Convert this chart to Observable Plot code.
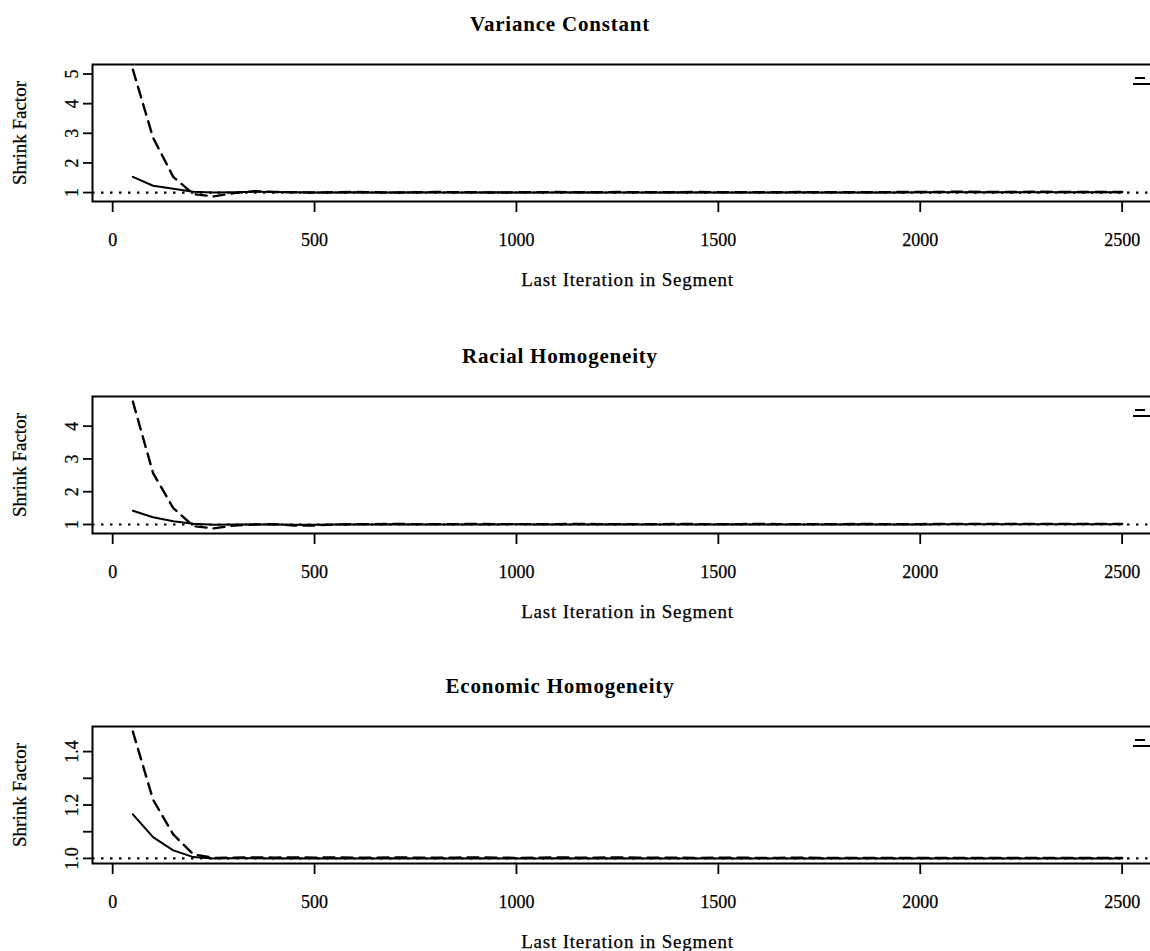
<!DOCTYPE html>
<html>
<head>
<meta charset="utf-8">
<script src="https://cdn.jsdelivr.net/npm/d3@7"></script>
<script src="https://cdn.jsdelivr.net/npm/@observablehq/plot@0.6"></script>
<style>
  html, body { margin: 0; padding: 0; background: #fff; }
  #wrap { position: relative; width: 1150px; height: 951px; overflow: hidden; background: #fff;
          font-family: "Liberation Serif", "Times New Roman", serif; color: #000; }
  .title { position: absolute; left: 0; width: 1120px; height: 24px; line-height: 24px; text-align: center;
           font-weight: bold; font-size: 21px; letter-spacing: 0.8px; }
  .panel { position: absolute; left: 0; width: 1200px; }
  .panel svg { max-width: none !important; width: 1200px; }
  .legend { position: absolute; left: 1133px; }
  .panel svg text { stroke: #000; stroke-width: 0.25px; }
  g[aria-label="x-axis label"] text { letter-spacing: 0.8px; font-size: 19px; }
  g[aria-label="y-axis label"] text { font-size: 19px; }
</style>
</head>
<body>
<div id="wrap"></div>
<script>
// ---------------- data ----------------
const titles = ["Variance Constant", "Racial Homogeneity", "Economic Homogeneity"];
const xLabel = "Last Iteration in Segment";
const yLabel = "Shrink Factor";
const seriesNames = ["median", "97.5%"];

const lastIter = [50, 100, 150, 200, 250, 300, 350, 400, 450, 500,
  550, 600, 650, 700, 750, 800, 850, 900, 950, 1000,
  1050, 1100, 1150, 1200, 1250, 1300, 1350, 1400, 1450, 1500,
  1550, 1600, 1650, 1700, 1750, 1800, 1850, 1900, 1950, 2000,
  2050, 2100, 2150, 2200, 2250, 2300, 2350, 2400, 2450, 2500];

const xTicks = [0, 500, 1000, 1500, 2000, 2500];

// Variance Constant
const varianceMedian = [1.53, 1.23, 1.13, 1.03, 1.00, 1.01, 1.03, 1.02, 1.01, 1.00,
  1.00, 1.01, 1.00, 1.00, 1.01, 1.00, 1.00, 1.00, 1.01, 1.00,
  1.00, 1.00, 1.01, 1.00, 1.00, 1.00, 1.00, 1.01, 1.00, 1.00,
  1.00, 1.00, 1.00, 1.01, 1.00, 1.00, 1.00, 1.00, 1.00, 1.01,
  1.01, 1.01, 1.01, 1.01, 1.01, 1.01, 1.01, 1.01, 1.01, 1.01];
const varianceUpper = [5.15, 2.85, 1.53, 0.95, 0.87, 0.98, 1.05, 1.02, 1.01, 1.00,
  1.01, 1.02, 1.01, 1.00, 1.01, 1.02, 1.01, 1.01, 1.00, 1.01,
  1.01, 1.02, 1.01, 1.01, 1.02, 1.01, 1.01, 1.01, 1.02, 1.01,
  1.01, 1.01, 1.01, 1.02, 1.01, 1.01, 1.01, 1.01, 1.02, 1.02,
  1.02, 1.03, 1.02, 1.02, 1.02, 1.03, 1.02, 1.02, 1.02, 1.02];
const varianceTicks = [1, 2, 3, 4, 5];
const varianceTickLabels = ["1", "2", "3", "4", "5"];

// Racial Homogeneity
const racialMedian = [1.42, 1.22, 1.10, 1.02, 0.99, 1.00, 1.00, 1.00, 0.99, 0.99,
  1.00, 1.00, 1.00, 1.01, 1.00, 1.00, 1.00, 1.00, 1.00, 1.01,
  1.00, 1.00, 1.00, 1.00, 1.01, 1.00, 1.00, 1.00, 1.00, 1.00,
  1.01, 1.00, 1.00, 1.00, 1.00, 1.00, 1.01, 1.00, 1.00, 1.00,
  1.01, 1.01, 1.01, 1.01, 1.01, 1.01, 1.01, 1.01, 1.01, 1.01];
const racialUpper = [4.75, 2.57, 1.50, 0.95, 0.88, 0.97, 1.00, 1.01, 0.97, 0.97,
  1.00, 1.01, 1.01, 1.02, 1.01, 1.01, 1.01, 1.02, 1.01, 1.01,
  1.01, 1.01, 1.02, 1.01, 1.01, 1.01, 1.01, 1.02, 1.01, 1.01,
  1.01, 1.02, 1.01, 1.01, 1.01, 1.01, 1.02, 1.01, 1.01, 1.01,
  1.02, 1.02, 1.02, 1.02, 1.02, 1.02, 1.02, 1.02, 1.02, 1.02];
const racialTicks = [1, 2, 3, 4];
const racialTickLabels = ["1", "2", "3", "4"];

// Economic Homogeneity
const economicMedian = [1.165, 1.080, 1.030, 1.005, 1.000, 1.001, 1.001, 1.000, 1.001, 1.000,
  1.001, 1.000, 1.000, 1.001, 1.000, 1.000, 1.000, 1.001, 1.000, 1.000,
  1.000, 1.001, 1.000, 1.000, 1.001, 1.000, 1.000, 1.000, 1.000, 1.000,
  1.000, 1.000, 1.000, 1.000, 1.000, 1.000, 1.000, 1.000, 1.000, 1.000,
  1.000, 1.000, 1.000, 1.000, 1.000, 1.000, 1.000, 1.000, 1.000, 1.000];
const economicUpper = [1.475, 1.220, 1.090, 1.015, 1.002, 1.003, 1.004, 1.003, 1.004, 1.003,
  1.004, 1.003, 1.003, 1.004, 1.003, 1.003, 1.003, 1.004, 1.003, 1.002,
  1.003, 1.004, 1.003, 1.003, 1.004, 1.003, 1.003, 1.003, 1.002, 1.003,
  1.003, 1.002, 1.002, 1.003, 1.002, 1.002, 1.002, 1.002, 1.002, 1.002,
  1.002, 1.002, 1.002, 1.002, 1.002, 1.002, 1.002, 1.002, 1.002, 1.002];
const economicTicks = [1.0, 1.1, 1.2, 1.3, 1.4];
const economicTickLabels = ["1.0", "", "1.2", "", "1.4"];

// ---------------- layout ----------------
const panels = [
  {title: titles[0], median: varianceMedian, upper: varianceUpper, ticks: varianceTicks, tickLabels: varianceTickLabels, frameTop: 64},
  {title: titles[1], median: racialMedian, upper: racialUpper, ticks: racialTicks, tickLabels: racialTickLabels, frameTop: 396},
  {title: titles[2], median: economicMedian, upper: economicUpper, ticks: economicTicks, tickLabels: economicTickLabels, frameTop: 726}
];

const wrap = document.getElementById("wrap");
const marginTop = 10, marginBottom = 105, plotH = 137;

function padExtent(vals, f) {
  const [lo, hi] = d3.extent(vals);
  const s = hi - lo;
  return [lo - f * s, hi + f * s];
}
const xDomain = padExtent(lastIter, 0.0408);

panels.forEach(p => {
  const rows = [];
  lastIter.forEach((it, i) => {
    rows.push({iter: it, value: p.median[i], series: seriesNames[0]});
    rows.push({iter: it, value: p.upper[i], series: seriesNames[1]});
  });
  const yDomain = padExtent(p.median.concat(p.upper), 0.04);
  const labelMap = new Map(p.ticks.map((t, i) => [t, p.tickLabels[i]]));

  const t = document.createElement("div");
  t.className = "title";
  t.style.top = (p.frameTop - 52) + "px";
  t.textContent = p.title;
  wrap.appendChild(t);

  const chart = Plot.plot({
    width: 1200,
    height: marginTop + plotH + marginBottom,
    marginLeft: 92, marginRight: 38, marginTop, marginBottom,
    style: {fontFamily: "'Liberation Serif', serif", fontSize: "18px", color: "#000", background: "transparent", maxWidth: "none"},
    x: {domain: xDomain},
    y: {domain: yDomain},
    marks: [
      Plot.ruleY([1], {stroke: "#000", strokeWidth: 2.2, strokeDasharray: "2.5,6.5"}),
      Plot.line(rows.filter(d => d.series === seriesNames[0]), {x: "iter", y: "value", stroke: "#000", strokeWidth: 2}),
      Plot.line(rows.filter(d => d.series === seriesNames[1]), {x: "iter", y: "value", stroke: "#000", strokeWidth: 2.4, strokeDasharray: "11,7"}),
      Plot.frame({stroke: "#000", strokeWidth: 2}),
      Plot.axisX(xTicks, {tickSize: 11, tickPadding: 21, strokeWidth: 1.8,
        tickFormat: d => String(d),
        label: xLabel, labelAnchor: "center", labelOffset: 84, labelArrow: "none"}),
      Plot.axisY(p.ticks, {tickSize: 9, tickPadding: 6, tickRotate: -90, strokeWidth: 1.8,
        tickFormat: d => labelMap.get(d),
        label: yLabel, labelAnchor: "center", labelOffset: 80, labelArrow: "none"})
    ]
  });
  chart.style.maxWidth = "none";
  const holder = document.createElement("div");
  holder.className = "panel";
  holder.style.top = (p.frameTop - marginTop) + "px";
  holder.appendChild(chart);
  wrap.appendChild(holder);

  // legend line stubs (cut off at the right edge, as in the original)
  const ns = "http://www.w3.org/2000/svg";
  const lg = document.createElementNS(ns, "svg");
  lg.setAttribute("class", "legend");
  lg.setAttribute("width", "40");
  lg.setAttribute("height", "12");
  lg.style.top = (p.frameTop + 12) + "px";
  const l1 = document.createElementNS(ns, "line");
  l1.setAttribute("x1", 2); l1.setAttribute("x2", 40); l1.setAttribute("y1", 2); l1.setAttribute("y2", 2);
  l1.setAttribute("stroke", "#000"); l1.setAttribute("stroke-width", 2); l1.setAttribute("stroke-dasharray", "10,6");
  const l2 = document.createElementNS(ns, "line");
  l2.setAttribute("x1", 0); l2.setAttribute("x2", 40); l2.setAttribute("y1", 8); l2.setAttribute("y2", 8);
  l2.setAttribute("stroke", "#000"); l2.setAttribute("stroke-width", 2);
  lg.appendChild(l1); lg.appendChild(l2);
  wrap.appendChild(lg);
});
</script>
</body>
</html>
